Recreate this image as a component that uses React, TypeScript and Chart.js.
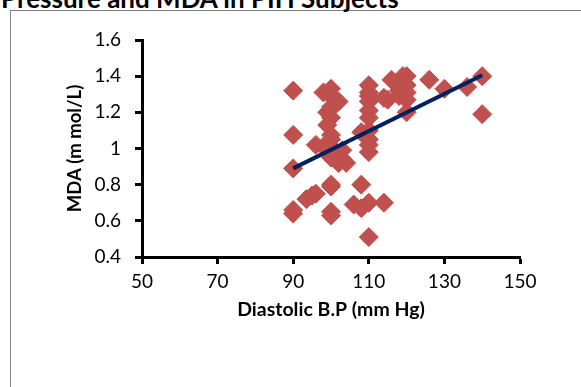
import React, { useEffect, useRef } from "react";
import { Chart, registerables } from "chart.js";

Chart.register(...registerables);

const chartTitle = "Pressure and MDA in PIH Subjects";
const xAxisTitle = "Diastolic B.P (mm Hg)";
const yAxisTitle = "MDA (m mol/L)";

const xTicks = [50, 70, 90, 110, 130, 150];
const yTicks = [0.4, 0.6, 0.8, 1.0, 1.2, 1.4, 1.6];

// Diastolic blood pressure (mm Hg) of each subject
const diastolicBP = [
  90, 90, 90, 90, 90,
  93.5, 95, 96, 96,
  98, 98, 99, 99,
  100, 100, 100, 100, 100, 100, 100, 100, 100, 100, 100, 100,
  101.5, 101.5, 102, 102, 103, 103, 104,
  106, 108, 108, 108,
  110, 110, 110, 110, 110, 110, 110, 110, 110, 110, 110, 110,
  114, 114, 115, 116, 118, 118, 119,
  120, 120, 120, 120, 120,
  126, 130, 136, 140, 140,
];

// MDA (m mol/L) of each subject
const mda = [
  1.32, 1.075, 0.89, 0.66, 0.64,
  0.72, 0.74, 0.75, 1.02,
  1.31, 1.01, 1.2, 1.13,
  1.33, 1.29, 1.23, 1.17, 1.075, 1.05, 1.0, 0.95, 0.8, 0.79, 0.65, 0.63,
  1.25, 0.98, 1.26, 0.92, 0.94, 0.99, 0.92,
  0.69, 0.8, 0.67, 1.09,
  1.35, 1.31, 1.29, 1.26, 1.21, 1.17, 1.1, 1.05, 1.02, 0.98, 0.7, 0.51,
  0.7, 1.28, 1.27, 1.38, 1.32, 1.29, 1.4,
  1.4, 1.35, 1.31, 1.27, 1.2,
  1.38, 1.33, 1.34, 1.4, 1.19,
];

// Linear trend line end points
const trendBP = [90, 140];
const trendMDA = [0.89, 1.405];

const FONT = "Lato, 'Open Sans', sans-serif";

export default function App() {
  const canvasRef = useRef<HTMLCanvasElement | null>(null);

  useEffect(() => {
    const canvas = canvasRef.current;
    if (!canvas) return;
    const chart = new Chart(canvas, {
      type: "scatter",
      data: {
        datasets: [
          {
            type: "line",
            label: "Trend",
            data: trendBP.map((x, i) => ({ x, y: trendMDA[i] })),
            borderColor: "#002060",
            borderWidth: 4,
            pointRadius: 0,
            fill: false,
            order: 0,
          } as any,
          {
            label: "MDA",
            data: diastolicBP.map((x, i) => ({ x, y: mda[i] })),
            pointStyle: "rectRot",
            pointRadius: 9.5,
            backgroundColor: "#C0504D",
            borderColor: "#C0504D",
            borderWidth: 1,
            order: 1,
          },
        ],
      },
      options: {
        responsive: false,
        animation: false,
        devicePixelRatio: 1,
        layout: { padding: { left: 60, right: 61, top: 40, bottom: 66 } },
        plugins: {
          legend: { display: false },
          tooltip: { enabled: false },
          title: { display: false },
        },
        scales: {
          x: {
            type: "linear",
            min: 50,
            max: 150,
            afterBuildTicks: (s: any) => {
              s.ticks = xTicks.map((v) => ({ value: v }));
            },
            afterFit: (s: any) => {
              s.height = 64;
            },
            ticks: {
              color: "#000",
              font: { family: FONT, size: 19 },
              padding: 6,
              maxRotation: 0,
            },
            grid: {
              display: true,
              drawOnChartArea: false,
              drawTicks: true,
              tickLength: 7,
              tickWidth: 3,
              tickColor: "#000",
            },
            border: { display: true, color: "#000", width: 3 },
            title: {
              display: true,
              text: xAxisTitle,
              color: "#000",
              font: { family: FONT, size: 19.5, weight: "bold" },
              padding: { top: 0, bottom: 0 },
            },
          },
          y: {
            type: "linear",
            min: 0.4,
            max: 1.6,
            afterBuildTicks: (s: any) => {
              s.ticks = yTicks.map((v) => ({ value: v }));
            },
            afterFit: (s: any) => {
              s.width = 82;
            },
            ticks: {
              color: "#000",
              font: { family: FONT, size: 19 },
              padding: 14,
              callback: (v: any) => String(Number(Number(v).toFixed(1))),
            },
            grid: {
              display: true,
              drawOnChartArea: false,
              drawTicks: true,
              tickLength: 7,
              tickWidth: 3,
              tickColor: "#000",
            },
            border: { display: true, color: "#000", width: 3 },
            title: {
              display: true,
              text: yAxisTitle,
              color: "#000",
              font: { family: FONT, size: 18.5, weight: "bold" },
              padding: { top: 4, bottom: 0 },
            },
          },
        },
      },
    });
    return () => chart.destroy();
  }, []);

  return (
    <div
      style={{
        position: "fixed",
        left: 0,
        top: 0,
        width: 581,
        height: 387,
        overflow: "hidden",
        background: "#fff",
      }}
    >
      <div
        style={{
          position: "absolute",
          left: 10,
          top: 10,
          width: 700,
          height: 500,
          border: "1px solid #808080",
          boxSizing: "border-box",
        }}
      />
      <div
        style={{
          position: "absolute",
          left: 1,
          top: -17,
          fontFamily: FONT,
          fontWeight: "bold",
          fontSize: 26,
          lineHeight: "30px",
          whiteSpace: "nowrap",
          color: "#000",
        }}
      >
        {chartTitle}
      </div>
      <canvas
        ref={canvasRef}
        width={581}
        height={387}
        style={{ position: "absolute", left: 0, top: 0, width: 581, height: 387 }}
      />
    </div>
  );
}
